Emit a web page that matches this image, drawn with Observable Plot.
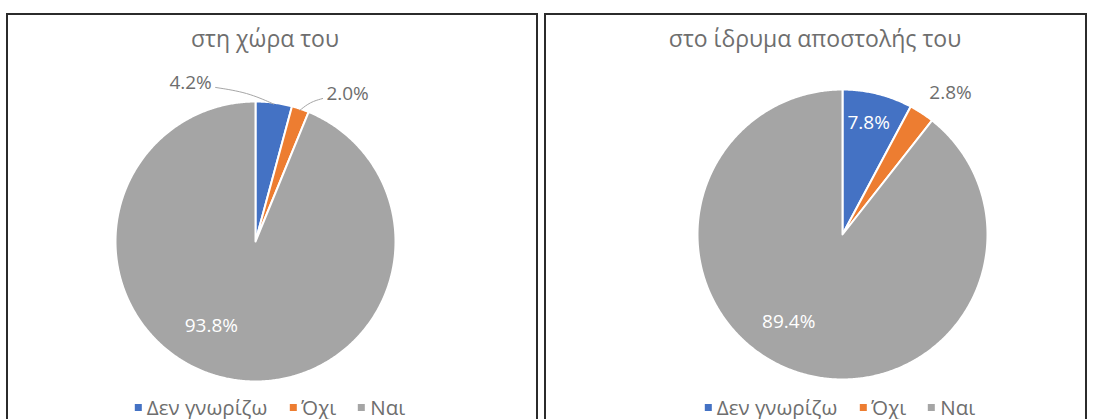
<!DOCTYPE html>
<html>
<head>
<meta charset="utf-8">
<script src="https://cdn.jsdelivr.net/npm/d3@7"></script>
<script src="https://cdn.jsdelivr.net/npm/@observablehq/plot@0.6"></script>
<style>
  body { margin: 0; background: #fff; font-family: "Open Sans", "Noto Sans", sans-serif; }
  .cell { position: absolute; top: 13px; height: 420px; border: 2px solid #2b2b2b; box-sizing: border-box; overflow: hidden; }
  .cell svg { position: absolute; left: 0; top: 0; }
  .title { position: absolute; transform: translate(-50%, -50%); white-space: nowrap; color: #6e6e6e; font-size: 23px; }
  .legend { position: absolute; transform: translate(-50%, -50%); display: flex; align-items: center; white-space: nowrap; color: #6e6e6e; font-size: 20.5px; }
  .legend .item { display: flex; align-items: center; margin: 0 11px; }
  .legend .sw { width: 7px; height: 7px; margin-right: 5px; }
</style>
</head>
<body>
<div id="c0" class="cell" style="left:6px; width:532px;"></div>
<div id="c1" class="cell" style="left:544px; width:543px;"></div>
<script>
const categories = ["Δεν γνωρίζω", "Όχι", "Ναι"];
const colors = ["#4472C4", "#ED7D31", "#A5A5A5"];
const titles = ["στη χώρα του", "στο ίδρυμα αποστολής του"];
const valuesCountry = [4.2, 2.0, 93.8];
const valuesInstitution = [7.8, 2.8, 89.4];

// layout (pixels inside each cell) and label placement (angle clockwise from top, radius fraction)
const layouts = [
  { id: "c0", w: 528, h: 416, cx: 247, cy: 226, r: 140, titleX: 257, titleY: 23, legendX: 262, legendY: 392,
    labels: [[337.8, 1.227, false, true], [31.9, 1.245, false, true], [207.6, 0.68, true, false]] },
  { id: "c1", w: 539, h: 416, cx: 296, cy: 219, r: 145, titleX: 269, titleY: 23, legendX: 294, legendY: 392,
    labels: [[13.2, 0.79, true, false], [37.3, 1.23, false, false], [211.5, 0.71, true, false]] }
];

function fmt(v) { return v.toFixed(1) + "%"; }

function drawPanel(values, title, L) {
  const total = d3.sum(values);
  let acc = 0;
  const slices = values.map((v, i) => {
    const a0 = acc / total * 2 * Math.PI; acc += v;
    const a1 = acc / total * 2 * Math.PI;
    return { key: categories[i], v, a0, a1 };
  });
  const pts = [];
  for (const s of slices) {
    pts.push({ key: s.key, x: 0, y: 0 });
    const n = Math.max(2, Math.ceil((s.a1 - s.a0) / (Math.PI / 360)));
    for (let k = 0; k <= n; k++) {
      const a = s.a0 + (s.a1 - s.a0) * k / n;
      pts.push({ key: s.key, x: Math.sin(a), y: Math.cos(a) });
    }
  }
  const labels = slices.map((s, i) => {
    const [deg, rf, inside, leader] = L.labels[i];
    const a = deg * Math.PI / 180;
    return { text: fmt(s.v), x: rf * Math.sin(a), y: rf * Math.cos(a), inside, leader, mid: (s.a0 + s.a1) / 2 };
  });
  const halfW = 25 / L.r;
  const leaders = [];
  labels.filter(d => d.leader).forEach((d, j) => {
    const side = d.x < 0 ? 1 : -1;
    const x1 = d.x + side * halfW, y1 = d.y - 5 / L.r;
    const x3 = Math.sin(d.mid) * 0.99, y3 = Math.cos(d.mid) * 0.99;
    const xm = x1 + (x3 - x1) * 0.55, ym = y1 + (y3 - y1) * 0.3;
    leaders.push({ g: j, x: x1, y: y1 }, { g: j, x: xm, y: ym }, { g: j, x: x3, y: y3 });
  });

  const svg = Plot.plot({
    width: L.w, height: L.h,
    margin: 0,
    x: { domain: [-1, 1], range: [L.cx - L.r, L.cx + L.r], axis: null },
    y: { domain: [-1, 1], range: [L.cy + L.r, L.cy - L.r], axis: null },
    color: { domain: categories, range: colors },
    style: { fontFamily: "'Open Sans', 'Noto Sans', sans-serif", background: "transparent" },
    marks: [
      Plot.line(pts, { x: "x", y: "y", z: "key", fill: "key", stroke: "white", strokeWidth: 2, strokeLinejoin: "round", curve: "linear-closed" }),
      Plot.line(leaders, { x: "x", y: "y", z: "g", stroke: "#a6a6a6", strokeWidth: 1, curve: "basis" }),
      Plot.text(labels.filter(d => !d.inside), { x: "x", y: "y", text: "text", fill: "#6e6e6e", fontSize: 19 }),
      Plot.text(labels.filter(d => d.inside), { x: "x", y: "y", text: "text", fill: "#ffffff", fontSize: 19 })
    ]
  });
  const cell = document.getElementById(L.id);
  cell.appendChild(svg);

  const t = document.createElement("div");
  t.className = "title";
  t.textContent = title;
  t.style.left = L.titleX + "px"; t.style.top = L.titleY + "px";
  cell.appendChild(t);

  const lg = document.createElement("div");
  lg.className = "legend";
  lg.style.left = L.legendX + "px"; lg.style.top = L.legendY + "px";
  categories.forEach((c, i) => {
    const it = document.createElement("span"); it.className = "item";
    const sw = document.createElement("span"); sw.className = "sw"; sw.style.background = colors[i];
    const tx = document.createElement("span"); tx.textContent = c;
    it.appendChild(sw); it.appendChild(tx); lg.appendChild(it);
  });
  cell.appendChild(lg);
}

drawPanel(valuesCountry, titles[0], layouts[0]);
drawPanel(valuesInstitution, titles[1], layouts[1]);
</script>
</body>
</html>
